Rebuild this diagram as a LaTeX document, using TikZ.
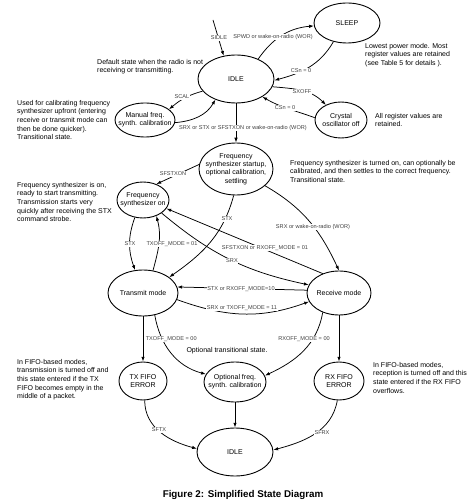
\documentclass[tikz,border=0pt]{standalone}
\usepackage{fontspec}
\setmainfont{Liberation Sans}
\usetikzlibrary{shapes.geometric,arrows.meta}
\begin{document}
\begin{tikzpicture}[x=1pt,y=1pt,
 st/.style={draw, ellipse, line width=0.9pt, inner sep=0pt},
 stt/.style={align=center, inner sep=0pt, font=\fontsize{7}{8.3}\selectfont},
 ed/.style={line width=0.75pt, -{Latex[length=4.8pt,width=3.4pt]}},
 lbl/.style={fill=white, inner sep=0.6pt, text=black!75, font=\fontsize{5.6}{6.5}\selectfont},
 note/.style={align=left, inner sep=0pt, anchor=north west, font=\fontsize{7}{8.6}\selectfont},
]
\useasboundingbox (0,0) rectangle (472,-502);

% states
\node[st, minimum width=76pt, minimum height=48pt, label={[stt]center:IDLE}] (idle1) at (236,-79) {};
\node[st, minimum width=66pt, minimum height=40pt, label={[stt]center:SLEEP}] (sleep) at (347,-23) {};
\node[st, minimum width=52pt, minimum height=36pt, label={[stt]center:Crystal\\oscillator off}] (xosc) at (341,-120) {};
\node[st, minimum width=60pt, minimum height=34pt, label={[stt]center:Manual freq.\\synth. calibration}] (manual) at (145,-120) {};
\node[st, minimum width=74pt, minimum height=52pt, label={[stt]center:Frequency\\synthesizer startup,\\optional calibration,\\settling}] (startup) at (236,-169) {};
\node[st, minimum width=52pt, minimum height=36pt, label={[stt]center:Frequency\\synthesizer on}] (fson) at (143,-200) {};
\node[st, minimum width=70pt, minimum height=46pt, label={[stt]center:Transmit mode}] (tx) at (143,-293) {};
\node[st, minimum width=64pt, minimum height=44pt, label={[stt]center:Receive mode}] (rx) at (339,-293) {};
\node[st, minimum width=48pt, minimum height=38pt, label={[stt]center:TX FIFO\\ERROR}] (txerr) at (143,-381) {};
\node[st, minimum width=62pt, minimum height=40pt, label={[stt]center:Optional freq.\\synth. calibration}] (opt) at (235,-382) {};
\node[st, minimum width=50pt, minimum height=38pt, label={[stt]center:RX FIFO\\ERROR}] (rxerr) at (339,-381) {};
\node[st, minimum width=76pt, minimum height=48pt, label={[stt]center:IDLE}] (idle2) at (235,-452) {};

\coordinate (sidle0) at (213,-20);

% connectors
\draw[ed] (sidle0) -- (idle1.118);
\draw[ed] (idle1.42) to[out=55,in=185] (sleep.185);
\draw[ed] (sleep.234) to[out=240,in=15] (idle1.-2);
\draw[ed] (idle1.-12) to[out=-5,in=135] (xosc.135);
\draw[ed] (xosc.175) to[out=160,in=-30] (idle1.-34);
\draw[ed] (idle1.200) to[out=195,in=40] (manual.24);
\draw[ed] (manual.-5) to[out=5,in=240] (idle1.225);
\draw[ed] (idle1.south) -- (startup.north);
\draw[ed] (startup.173) -- (fson.50);
\draw[ed] (fson.245) to[out=250,in=110] (tx.109);
\draw[ed] (tx.66) to[out=75,in=-75] (fson.-50);
\draw[ed] (startup.265) to[out=255,in=35] (tx.31);
\draw[ed] (startup.-30) to[out=-30,in=115] (rx.north);
\draw[ed] (rx.130) -- (fson.-20);
\draw[ed] (fson.-35) to[out=-40,in=168] (rx.165);
\draw[ed] (rx.175) -- (tx.10);
\draw[ed] (tx.-11) to[out=-20,in=200] (rx.196);
\draw[ed] (tx.south) -- (txerr.north);
\draw[ed] (tx.-62) to[out=-80,in=165] (opt.165);
\draw[ed] (rx.230) to[out=260,in=25] (opt.12);
\draw[ed] (rx.south) -- (rxerr.north);
\draw[ed] (opt.south) -- (idle2.north);
\draw[ed] (txerr.-85) to[out=-90,in=165] (idle2.175);
\draw[ed] (rxerr.-95) to[out=-100,in=15] (idle2.3);

% connector labels
\node[lbl] (l1) at (219,-38) {SIDLE};
\node[lbl] (l2) at (273,-37) {SPWD or wake-on-radio (WOR)};
\node[lbl] (l3) at (301,-71) {CSn = 0};
\node[lbl] (l4) at (302,-92) {SXOFF};
\node[lbl] (l5) at (285,-108) {CSn = 0};
\node[lbl] (l6) at (182,-97) {SCAL};
\node[lbl] (l7) at (243,-128) {SRX or STX or SFSTXON or wake-on-radio (WOR)};
\node[lbl] (l8) at (173,-174) {SFSTXON};
\node[lbl] (l9) at (130,-244) {STX};
\node[lbl] (l10) at (172,-244) {TXOFF\_MODE = 01};
\node[lbl] (l11) at (227,-219) {STX};
\node[lbl] (l12) at (313,-227) {SRX or wake-on-radio (WOR)};
\node[lbl] (l13) at (265,-248) {SFSTXON or RXOFF\_MODE = 01};
\node[lbl] (l14) at (232,-261) {SRX};
\node[lbl] (l15) at (241,-289) {STX or RXOFF\_MODE=10};
\node[lbl] (l16) at (242,-308) {SRX or TXOFF\_MODE = 11};
\node[lbl, anchor=west] (l17) at (145,-339) {TXOFF\_MODE = 00};
\node[lbl] (l18) at (304,-339) {RXOFF\_MODE = 00};
\node[lbl] (l19) at (159,-430) {SFTX};
\node[lbl] (l20) at (322,-433) {SFRX};

% notes
\node[note] (n1) at (97,-59) {Default state when the radio is not\\receiving or transmitting.};
\node[note] (n2) at (365,-43) {Lowest power mode. Most\\register values are retained\\(see Table 5 for details ).};
\node[note] (n3) at (375,-113) {All register values are\\retained.};
\node[note] (n4) at (17,-100) {Used for calibrating frequency\\synthesizer upfront (entering\\receive or transmit mode can\\then be done quicker).\\Transitional state.};
\node[note] (n5) at (290,-160) {Frequency synthesizer is turned on, can optionally be\\calibrated, and then settles to the correct frequency.\\Transitional state.};
\node[note] (n6) at (17,-182) {Frequency synthesizer is on,\\ready to start transmitting.\\Transmission starts very\\quickly after receiving the STX\\command strobe.};
\node[note, anchor=center] (n7) at (227,-351) {Optional transitional state.};
\node[note] (n8) at (17,-359) {In FIFO-based modes,\\transmission is turned off and\\this state entered if the TX\\FIFO becomes empty in the\\middle of a packet.};
\node[note] (n9) at (373,-362) {In FIFO-based modes,\\reception is turned off and this\\state entered if the RX FIFO\\overflows.};

\node[font=\fontsize{9.8}{12}\selectfont\bfseries, inner sep=0pt] (cap) at (243,-495) {Figure 2: Simplified State Diagram};
\end{tikzpicture}
\end{document}
